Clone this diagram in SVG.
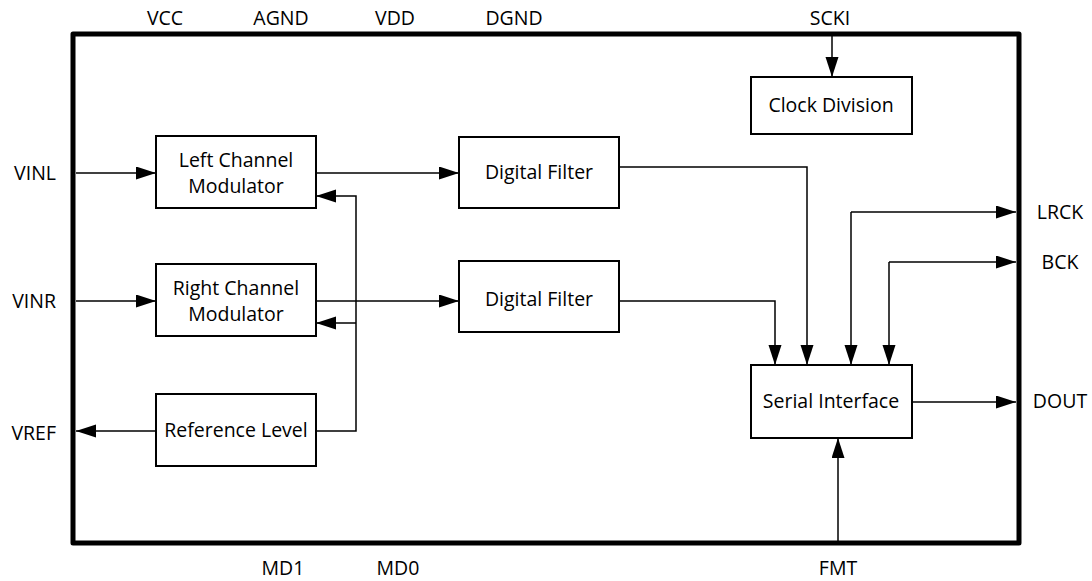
<svg xmlns="http://www.w3.org/2000/svg" width="1092" height="581" viewBox="0 0 1092 581">
<style>
text{font-family:"Open Sans","Noto Sans","Liberation Sans",sans-serif;font-size:19.5px;fill:#000}
.box{fill:#fff;stroke:#000;stroke-width:2}
.c{text-anchor:middle}
.e{text-anchor:end}
.w{fill:none;stroke:#000;stroke-width:1.5}
.a{marker-end:url(#ah)}
</style>
<defs>
<marker id="ah" markerUnits="userSpaceOnUse" markerWidth="20" markerHeight="14" refX="20" refY="6.5" orient="auto">
<path d="M0,0 L20,6.5 L0,13 z" fill="#000"/>
</marker>
</defs>
<rect x="73" y="34" width="946" height="509" fill="none" stroke="#000" stroke-width="5" stroke-linejoin="round"/>
<g id="pins">
<text class="c" x="165" y="25">VCC</text>
<text class="c" x="281" y="25">AGND</text>
<text class="c" x="395" y="25">VDD</text>
<text class="c" x="514" y="25">DGND</text>
<text class="c" x="830" y="25">SCKI</text>
<text class="c" x="283" y="575">MD1</text>
<text class="c" x="398" y="575">MD0</text>
<text class="c" x="838" y="575">FMT</text>
<text class="e" x="56" y="180">VINL</text>
<text class="e" x="56" y="308">VINR</text>
<text class="e" x="56" y="440">VREF</text>
<text class="c" x="1060" y="219">LRCK</text>
<text class="c" x="1060" y="269">BCK</text>
<text class="c" x="1060" y="408">DOUT</text>
</g>
<g id="connectors">
<path class="w a" d="M76,173 H156"/>
<path class="w a" d="M76,301 H156"/>
<path class="w a" d="M156,431 H76"/>
<path class="w a" d="M316,173 H459"/>
<path class="w a" d="M316,301 H459"/>
<path class="w a" d="M316,431 H356 V196 H316"/>
<path class="w a" d="M356,323 H316"/>
<path class="w a" d="M619,167 H807 V365"/>
<path class="w a" d="M619,301 H775 V365"/>
<path class="w a" d="M851,212 V365"/>
<path class="w a" d="M851,212 H1016"/>
<path class="w a" d="M889,262 V365"/>
<path class="w a" d="M889,262 H1016"/>
<path class="w a" d="M912,402 H1016"/>
<path class="w a" d="M838,541 V438"/>
<path class="w a" d="M832,36 V77"/>
</g>
<g id="lcm"><rect class="box" x="156" y="136" width="160" height="72"/><text class="c" x="236" y="167">Left Channel</text><text class="c" x="236" y="193">Modulator</text></g>
<g id="rcm"><rect class="box" x="156" y="264" width="160" height="72"/><text class="c" x="236" y="295">Right Channel</text><text class="c" x="236" y="321">Modulator</text></g>
<g id="ref"><rect class="box" x="156" y="394" width="160" height="72"/><text class="c" x="236" y="437">Reference Level</text></g>
<g id="df1"><rect class="box" x="459" y="137" width="160" height="71"/><text class="c" x="539" y="179">Digital Filter</text></g>
<g id="df2"><rect class="box" x="459" y="261" width="160" height="71"/><text class="c" x="539" y="306">Digital Filter</text></g>
<g id="clk"><rect class="box" x="751" y="77" width="161" height="57"/><text class="c" x="831" y="112">Clock Division</text></g>
<g id="si"><rect class="box" x="751" y="365" width="161" height="73"/><text class="c" x="831" y="408">Serial Interface</text></g>
</svg>
